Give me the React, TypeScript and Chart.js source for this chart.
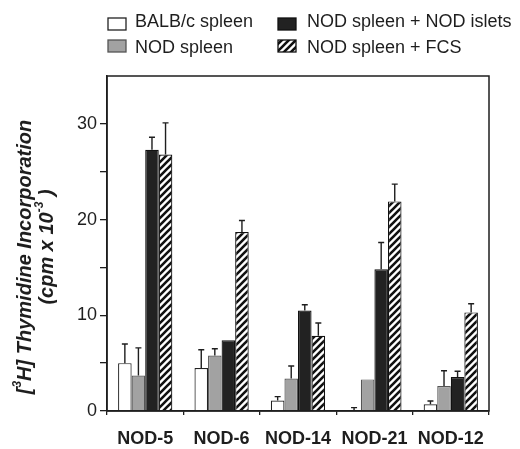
import React, { useEffect, useRef } from "react";
import { Chart, registerables } from "chart.js";

Chart.register(...registerables);

const categories = ["NOD-5", "NOD-6", "NOD-14", "NOD-21", "NOD-12"];
const seriesNames = ["BALB/c spleen", "NOD spleen", "NOD spleen + NOD islets", "NOD spleen + FCS"];
const balbValues = [5.0, 4.5, 1.1, 0.1, 0.7];
const balbErrors = [2.0, 1.9, 0.4, 0.25, 0.35];
const nodValues = [3.7, 5.8, 3.4, 3.3, 2.6];
const nodErrors = [2.9, 0.7, 1.3, 0, 1.6];
const isletValues = [27.3, 7.4, 10.5, 14.8, 3.55];
const isletErrors = [1.3, 0, 0.6, 2.8, 0.6];
const fcsValues = [26.8, 18.7, 7.85, 21.9, 10.3];
const fcsErrors = [3.3, 1.2, 1.35, 1.8, 0.9];
const yTickLabels = [0, 10, 20, 30];

const FONT = "'Liberation Sans', Arial, Helvetica, sans-serif";
const INK = "#1e1e1e";

function makeHatch(): CanvasPattern | string {
  const s = 7;
  const c = document.createElement("canvas");
  c.width = s;
  c.height = s;
  const g = c.getContext("2d");
  if (!g) return "#fff";
  g.fillStyle = "#ffffff";
  g.fillRect(0, 0, s, s);
  g.strokeStyle = "#111";
  g.lineWidth = 2.6;
  g.lineCap = "square";
  g.beginPath();
  g.moveTo(-1, s + 1);
  g.lineTo(s + 1, -1);
  g.moveTo(-1, 1);
  g.lineTo(1, -1);
  g.moveTo(s - 1, s + 1);
  g.lineTo(s + 1, s - 1);
  g.stroke();
  const p = g.createPattern(c, "repeat");
  return p || "#fff";
}

export default function App() {
  const ref = useRef<HTMLCanvasElement | null>(null);

  useEffect(() => {
    if (!ref.current) return;
    const hatch = makeHatch();
    const fills: any[] = ["#ffffff", "#a2a2a2", "#222222", hatch];
    const borders = ["#222", "#555", "#111", "#111"];
    const values = [balbValues, nodValues, isletValues, fcsValues];
    const errors = [balbErrors, nodErrors, isletErrors, fcsErrors];

    const decor = {
      id: "decor",
      afterDatasetsDraw(chart: any) {
        const ctx = chart.ctx;
        const y = chart.scales.y;
        ctx.save();
        ctx.strokeStyle = INK;
        ctx.lineWidth = 1.4;
        chart.data.datasets.forEach((ds: any, di: number) => {
          const meta = chart.getDatasetMeta(di);
          meta.data.forEach((bar: any, i: number) => {
            const e = errors[di][i];
            if (!e) return;
            const top = y.getPixelForValue(values[di][i] + e);
            ctx.beginPath();
            ctx.moveTo(bar.x, bar.y);
            ctx.lineTo(bar.x, top);
            ctx.moveTo(bar.x - 3, top);
            ctx.lineTo(bar.x + 3, top);
            ctx.stroke();
          });
        });
        ctx.restore();
      },
      afterDraw(chart: any) {
        const ctx = chart.ctx;
        const a = chart.chartArea;
        ctx.save();
        // frame
        ctx.strokeStyle = INK;
        ctx.lineWidth = 1.5;
        ctx.strokeRect(a.left, a.top, a.right - a.left, a.bottom - a.top);

        // legend
        const pos = [
          { bx: 108, by: 18, tx: 135, ty: 27 },
          { bx: 108, by: 40, tx: 135, ty: 53 },
          { bx: 278, by: 18, tx: 307, ty: 27 },
          { bx: 278, by: 40, tx: 307, ty: 53 },
        ];
        ctx.font = `18px ${FONT}`;
        ctx.textBaseline = "alphabetic";
        ctx.textAlign = "left";
        seriesNames.forEach((name, i) => {
          const p = pos[i];
          ctx.fillStyle = fills[i];
          ctx.fillRect(p.bx, p.by, 18, 12);
          ctx.strokeStyle = borders[i];
          ctx.lineWidth = 1.3;
          ctx.strokeRect(p.bx, p.by, 18, 12);
          ctx.fillStyle = INK;
          ctx.fillText(name, p.tx, p.ty);
        });

        // y axis title
        const drawLine = (segs: { t: string; sup?: boolean }[], cx: number, cy: number) => {
          const big = `italic bold 20px ${FONT}`;
          const small = `italic bold 12px ${FONT}`;
          let total = 0;
          segs.forEach((s) => {
            ctx.font = s.sup ? small : big;
            total += ctx.measureText(s.t).width;
          });
          ctx.save();
          ctx.translate(cx, cy);
          ctx.rotate(-Math.PI / 2);
          ctx.textBaseline = "middle";
          ctx.textAlign = "left";
          ctx.fillStyle = INK;
          let x = -total / 2;
          segs.forEach((s) => {
            ctx.font = s.sup ? small : big;
            ctx.fillText(s.t, x, s.sup ? -7 : 0);
            x += ctx.measureText(s.t).width;
          });
          ctx.restore();
        };
        drawLine([{ t: "[" }, { t: "3", sup: true }, { t: "H] Thymidine Incorporation" }], 25, 257);
        drawLine([{ t: "(cpm x 10" }, { t: "-3", sup: true }, { t: " )" }], 47, 247);
        ctx.restore();
      },
    };

    const chart = new Chart(ref.current, {
      type: "bar",
      data: {
        labels: categories,
        datasets: seriesNames.map((name, i) => ({
          label: name,
          data: values[i],
          backgroundColor: fills[i],
          borderColor: borders[i],
          borderWidth: 1.2,
          borderSkipped: "bottom",
          categoryPercentage: 0.71,
          barPercentage: 1.0,
        })),
      },
      options: {
        responsive: false,
        animation: false,
        layout: { padding: { top: 76, right: 31, left: 0, bottom: 0 } },
        plugins: {
          legend: { display: false },
          tooltip: { enabled: false },
          title: { display: false },
        },
        scales: {
          x: {
            offset: true,
            grid: {
              display: true,
              offset: true,
              drawOnChartArea: false,
              drawTicks: true,
              tickLength: 4,
              color: INK,
              lineWidth: 1.3,
            },
            border: { display: true, color: INK, width: 1.5 },
            ticks: {
              color: INK,
              padding: 13,
              font: { family: FONT, size: 18, weight: "bold" },
              maxRotation: 0,
            },
            afterFit: (s: any) => {
              s.height = 38;
            },
          },
          y: {
            min: 0,
            max: 35,
            grid: {
              display: true,
              drawOnChartArea: false,
              drawTicks: true,
              tickLength: 7,
              color: INK,
              lineWidth: 1.3,
            },
            border: { display: true, color: INK, width: 1.5 },
            ticks: {
              stepSize: 5,
              color: INK,
              padding: 3,
              font: { family: FONT, size: 18 },
              callback: (v: any) => (yTickLabels.includes(Number(v)) ? String(v) : ""),
            },
            afterBuildTicks: (s: any) => {
              s.ticks = s.ticks.filter((t: any) => t.value < 35);
            },
            afterFit: (s: any) => {
              s.width = 107;
            },
          },
        },
      },
      plugins: [decor],
    });
    return () => chart.destroy();
  }, []);

  return (
    <div style={{ position: "absolute", left: 0, top: 0, width: 520, height: 449, background: "#fff" }}>
      <canvas ref={ref} width={520} height={449} style={{ display: "block" }} />
    </div>
  );
}
